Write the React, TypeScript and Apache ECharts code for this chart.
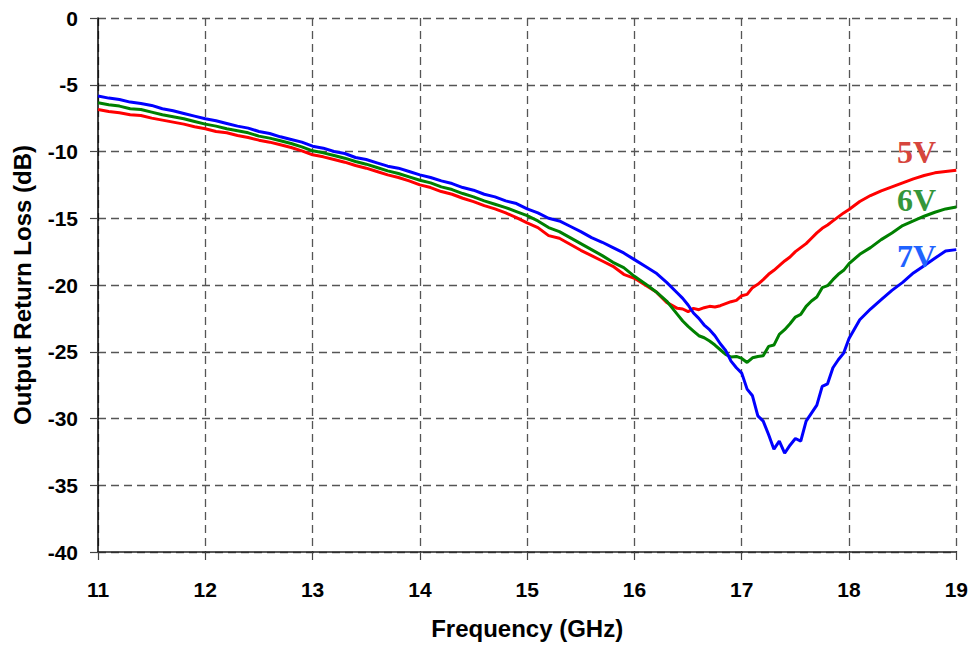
import React, { useEffect, useRef } from "react";
import * as echarts from "echarts";

const freqGHz = [
  11.0, 11.1, 11.2, 11.3, 11.4, 11.5, 11.6, 11.7, 11.8, 11.9,
  12.0, 12.1, 12.2, 12.3, 12.4, 12.5, 12.6, 12.7, 12.8, 12.9,
  13.0, 13.1, 13.2, 13.3, 13.4, 13.5, 13.6, 13.7, 13.8, 13.9,
  14.0, 14.1, 14.2, 14.3, 14.4, 14.5, 14.6, 14.7, 14.8, 14.9,
  15.0, 15.1, 15.2, 15.3, 15.4, 15.5, 15.6, 15.7, 15.8, 15.9,
  16.0, 16.1, 16.2, 16.3, 16.4, 16.45, 16.5, 16.55, 16.6, 16.65,
  16.7, 16.75, 16.8, 16.85, 16.9, 16.95, 17.0, 17.05, 17.1, 17.15,
  17.2, 17.25, 17.3, 17.35, 17.4, 17.45, 17.5, 17.55, 17.6, 17.65,
  17.7, 17.75, 17.8, 17.85, 17.9, 17.95, 18.0, 18.1, 18.2, 18.3,
  18.4, 18.5, 18.6, 18.7, 18.8, 18.9, 19.0,
];

const loss5V = [
  -6.85, -7.0, -7.1, -7.25, -7.3, -7.5, -7.65, -7.8, -7.95, -8.15,
  -8.3, -8.5, -8.6, -8.8, -8.95, -9.15, -9.3, -9.5, -9.7, -9.95,
  -10.25, -10.4, -10.6, -10.8, -11.05, -11.25, -11.5, -11.75, -11.95, -12.2,
  -12.5, -12.7, -13.0, -13.2, -13.5, -13.75, -14.05, -14.3, -14.6, -14.95,
  -15.35, -15.7, -16.3, -16.5, -16.95, -17.4, -17.8, -18.2, -18.6, -19.2,
  -19.5, -20.0, -20.5, -21.3, -21.75, -21.8, -22.0, -21.75, -21.85, -21.7,
  -21.6, -21.65, -21.55, -21.4, -21.25, -21.15, -20.8, -20.7, -20.2, -19.95,
  -19.6, -19.2, -18.9, -18.55, -18.2, -17.9, -17.5, -17.2, -16.9, -16.5,
  -16.1, -15.75, -15.5, -15.2, -14.9, -14.6, -14.35, -13.75, -13.3, -12.95,
  -12.65, -12.35, -12.05, -11.8, -11.6, -11.5, -11.4,
];

const loss6V = [
  -6.35, -6.5, -6.6, -6.8, -6.85, -7.05, -7.25, -7.4, -7.55, -7.75,
  -7.95, -8.1, -8.3, -8.45, -8.6, -8.85, -9.0, -9.2, -9.4, -9.65,
  -9.95, -10.1, -10.3, -10.5, -10.75, -10.95, -11.2, -11.45, -11.65, -11.9,
  -12.15, -12.35, -12.65, -12.85, -13.15, -13.4, -13.7, -13.95, -14.2, -14.5,
  -14.8, -15.2, -15.7, -16.0, -16.45, -16.9, -17.35, -17.8, -18.3, -18.7,
  -19.35, -19.9, -20.5, -21.2, -22.2, -22.7, -23.1, -23.45, -23.8, -23.95,
  -24.2, -24.5, -24.85, -25.2, -25.4, -25.35, -25.5, -25.8, -25.45, -25.35,
  -25.3, -24.6, -24.5, -23.7, -23.35, -22.9, -22.4, -22.2, -21.6, -21.2,
  -20.9, -20.2, -20.05, -19.6, -19.2, -18.9, -18.4, -17.7, -17.2, -16.6,
  -16.1, -15.55, -15.2, -14.85, -14.55, -14.3, -14.15,
];

const loss7V = [
  -5.85, -6.0, -6.1, -6.3, -6.4, -6.55, -6.8, -6.95, -7.15, -7.35,
  -7.55, -7.7, -7.9, -8.1, -8.25, -8.5, -8.65, -8.9, -9.1, -9.3,
  -9.6, -9.75, -10.0, -10.15, -10.45, -10.6, -10.85, -11.1, -11.25, -11.5,
  -11.75, -11.95, -12.2, -12.4, -12.7, -12.9, -13.2, -13.4, -13.7, -13.9,
  -14.3, -14.6, -15.0, -15.2, -15.6, -16.0, -16.45, -16.8, -17.2, -17.6,
  -18.1, -18.6, -19.1, -19.8, -20.6, -21.0, -21.5, -22.1, -22.5, -23.0,
  -23.35, -23.8, -24.4, -24.9, -25.7, -26.2, -26.6, -27.8, -28.3, -29.8,
  -30.2, -31.2, -32.3, -31.7, -32.6, -32.0, -31.5, -31.7, -30.2, -29.6,
  -29.0, -27.6, -27.4, -26.2, -25.6, -25.1, -24.0, -22.6, -21.8, -21.1,
  -20.4, -19.8, -19.1, -18.55, -18.0, -17.45, -17.35,
];

const seriesNames = ["5V", "6V", "7V"];
const lineColors = ["#ff0000", "#008000", "#0000ff"];
const labelColors = ["#d6453d", "#35963a", "#1f63ff"];

const pairs = (ys: number[]) => freqGHz.map((f, i) => [f, ys[i]]);

export default function App() {
  const ref = useRef<HTMLDivElement>(null);
  useEffect(() => {
    document.body.style.margin = "0";
    const chart = echarts.init(ref.current!, null, { renderer: "svg" });
    const axisFont = {
      fontFamily: "Liberation Sans, Arial, sans-serif",
      fontWeight: "bold" as const,
      color: "#000",
    };
    const allLoss = [loss5V, loss6V, loss7V];
    chart.setOption({
      animation: false,
      backgroundColor: "#fff",
      grid: { left: 98, right: 14, top: 18, bottom: 93, containLabel: false },
      xAxis: {
        type: "value",
        min: 11,
        max: 19,
        interval: 1,
        name: "Frequency (GHz)",
        nameLocation: "middle",
        nameGap: 64,
        nameTextStyle: { ...axisFont, fontSize: 24 },
        axisLine: { onZero: false, lineStyle: { color: "#222", width: 1.5 } },
        axisTick: { show: true, inside: false, length: 8, lineStyle: { color: "#444", width: 1.2 } },
        axisLabel: { ...axisFont, fontSize: 21, margin: 27 },
        splitLine: { show: true, lineStyle: { color: "#555", type: [8, 5], width: 1.3 } },
      },
      yAxis: {
        type: "value",
        min: -40,
        max: 0,
        interval: 5,
        name: "Output Return Loss (dB)",
        nameLocation: "middle",
        nameGap: 64,
        nameTextStyle: { ...axisFont, fontSize: 24 },
        axisLine: { show: true, onZero: false, lineStyle: { color: "#000", width: 1.5 } },
        axisTick: { show: true, inside: false, length: 8, lineStyle: { color: "#444", width: 1.2 } },
        axisLabel: { ...axisFont, fontSize: 21, margin: 20 },
        splitLine: { show: true, lineStyle: { color: "#555", type: [8, 5], width: 1.3 } },
      },
      series: seriesNames.map((n, i) => ({
        name: n,
        type: "line",
        data: pairs(allLoss[i]),
        showSymbol: false,
        symbol: "none",
        lineStyle: { color: lineColors[i], width: 3 },
        z: 3 + i,
      })),
      graphic: seriesNames.map((n, i) => ({
        type: "text",
        left: 897,
        top: [136, 184, 240][i],
        z: 10,
        style: {
          text: n,
          fill: labelColors[i],
          font: "bold 32px 'Liberation Serif', 'Times New Roman', serif",
        },
      })),
    });
    return () => chart.dispose();
  }, []);
  return <div ref={ref} style={{ width: 971, height: 645 }} />;
}
